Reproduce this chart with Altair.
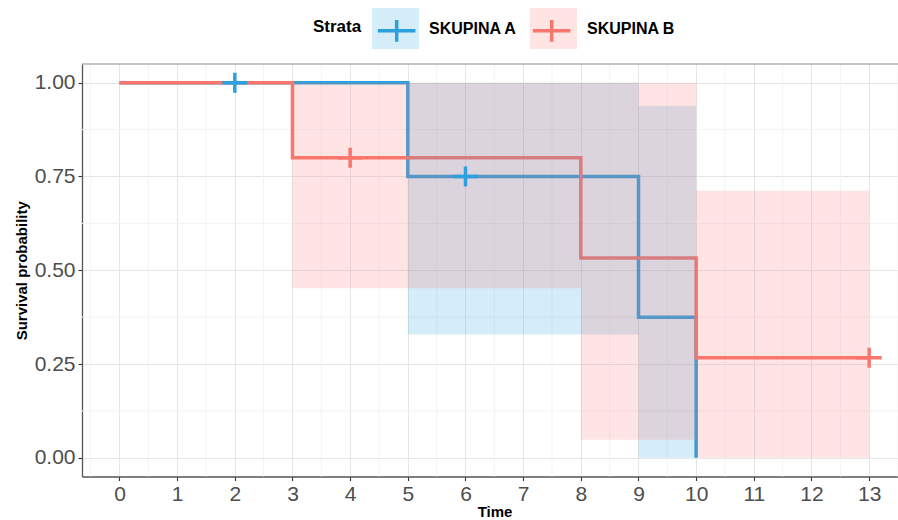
import altair as alt
import pandas as pd

# ---- data ----
groups = ["SKUPINA A", "SKUPINA B"]
colors = ["#2E9FDF", "#F8766D"]

a_time = [0, 5, 9, 10]
a_surv = [1.0, 0.75, 0.375, 0.0]
a_lower = [1.0, 0.329, 0.0, 0.0]
a_upper = [1.0, 1.0, 0.939, 0.939]

b_time = [0, 3, 8, 10, 13]
b_surv = [1.0, 0.8, 0.533, 0.267, 0.267]
b_lower = [1.0, 0.452, 0.048, 0.0, 0.0]
b_upper = [1.0, 1.0, 1.0, 0.712, 0.712]

a_cens_time = [2, 6]
a_cens_surv = [1.0, 0.75]
b_cens_time = [4, 13]
b_cens_surv = [0.8, 0.267]

x_major = list(range(0, 14))
x_minor = [i + 0.5 for i in range(-1, 14)]
y_major = [0.0, 0.25, 0.5, 0.75, 1.0]
y_minor = [0.125, 0.375, 0.625, 0.875]

# ---- tables ----
curve = pd.DataFrame({
    "time": a_time + b_time,
    "surv": a_surv + b_surv,
    "lower": a_lower + b_lower,
    "upper": a_upper + b_upper,
    "strata": [groups[0]] * len(a_time) + [groups[1]] * len(b_time),
})
cens = pd.DataFrame({
    "time": a_cens_time + b_cens_time,
    "surv": a_cens_surv + b_cens_surv,
    "strata": [groups[0]] * len(a_cens_time) + [groups[1]] * len(b_cens_time),
})
xminor_df = pd.DataFrame({"time": x_minor})
yminor_df = pd.DataFrame({"surv": y_minor})

FONT = "Liberation Sans"
W, H = 816, 412.5

rect_path = "M-1,-0.87H1V0.87H-1Z"
cross_legend_path = "M-0.8,0H0.8M0,-0.46V0.46"
cross_path = "M-1,0H1M0,-0.8V0.8"

# legend geometry
LEG_X, LEG_Y = 231, -59
TITLE_FS, LABEL_FS = 17, 16
TITLE_W = 2.834 * TITLE_FS        # width of "Strata" (bold)
LABEL_W = 5.5 * LABEL_FS          # width of "SKUPINA A"/"SKUPINA B" (bold)
SYM = 47
GAP = 10
COLPAD = 12

fill_legend = alt.Legend(
    orient="none", legendX=LEG_X, legendY=LEG_Y, direction="horizontal",
    title="Strata", titleOrient="left", titleAnchor="middle", titleBaseline="middle",
    titleFont=FONT, titleFontSize=TITLE_FS, titleFontWeight="bold", titleColor="black",
    titlePadding=GAP, labelFont=FONT, labelFontSize=LABEL_FS, labelFontWeight="bold",
    labelColor="black", labelOffset=GAP, columnPadding=COLPAD, symbolSize=SYM * SYM,
    symbolType=rect_path, symbolOpacity=0.2, symbolStrokeWidth=0,
)
stroke_legend = alt.Legend(
    orient="none", legendX=LEG_X + TITLE_W + GAP, legendY=LEG_Y, direction="horizontal",
    title=None, labelExpr="''", labelFontSize=LABEL_FS, labelOffset=GAP,
    columnPadding=LABEL_W + COLPAD - 7, symbolSize=SYM * SYM,
    symbolType=cross_legend_path, symbolStrokeWidth=3.5, symbolOpacity=1,
)

x_scale = alt.Scale(domain=[-0.65, 13.5], nice=False, zero=False)
y_scale = alt.Scale(domain=[-0.05, 1.05], nice=False, zero=False)
stroke_scale = alt.Scale(domain=groups, range=colors)

x_axis = alt.Axis(title="Time", values=x_major, format="d", labelOverlap=False,
                  labelFlush=False, titleX=412.5)
y_axis = alt.Axis(title="Survival probability", values=y_major, format=".2f",
                  labelOverlap=False)

GRID_MINOR = "#f3f3f3"

xminor = alt.Chart(xminor_df).mark_rule(color=GRID_MINOR, strokeWidth=1).encode(
    x=alt.X("time:Q", scale=x_scale, axis=x_axis)
)
yminor = alt.Chart(yminor_df).mark_rule(color=GRID_MINOR, strokeWidth=1).encode(
    y=alt.Y("surv:Q", scale=y_scale, axis=y_axis)
)

lines = alt.Chart(curve).mark_line(
    interpolate="step-after", strokeWidth=3.5, strokeCap="butt", strokeJoin="miter"
).encode(
    x=alt.X("time:Q", scale=x_scale, axis=x_axis),
    y=alt.Y("surv:Q", scale=y_scale, axis=y_axis),
    stroke=alt.Stroke("strata:N", scale=stroke_scale, legend=stroke_legend),
    order=alt.Order("time:Q"),
)

bands = alt.Chart(curve).mark_area(
    interpolate="step-after", opacity=0.2
).encode(
    x=alt.X("time:Q", scale=x_scale, axis=x_axis),
    y=alt.Y("lower:Q", scale=y_scale, axis=y_axis),
    y2="upper:Q",
    fill=alt.Fill("strata:N", scale=alt.Scale(range=colors), legend=fill_legend),
)

marks = alt.Chart(cens).mark_point(
    shape=cross_path, size=625, strokeWidth=3.5, filled=False, opacity=1
).encode(
    x=alt.X("time:Q", scale=x_scale, axis=x_axis),
    y=alt.Y("surv:Q", scale=y_scale, axis=y_axis),
    stroke=alt.Stroke("strata:N", scale=stroke_scale, legend=stroke_legend),
)

border = alt.Chart(pd.DataFrame({"k": [0]})).mark_rule(
    color="#8c8c8c", strokeWidth=1.2
).encode(x=alt.value(0), x2=alt.value(W), y=alt.value(0))

chart = alt.layer(xminor, yminor, lines, bands, marks, border).properties(
    width=W, height=H,
    autosize=alt.AutoSizeParams(type="none"),
    padding={"left": 82, "top": 64, "right": 0, "bottom": 43.5},
).configure_view(stroke=None).configure_axis(
    labelFont=FONT, labelFontSize=21, labelColor="#4d4d4d",
    titleFont=FONT, titleFontSize=15, titleFontWeight="bold", titleColor="black",
    domainColor="#555555", domainWidth=1.3,
    tickColor="#333333", tickSize=4, tickWidth=1.1,
    gridColor="#e6e6e6", gridWidth=1, labelPadding=3,
).configure_axisX(titlePadding=0).configure_axisY(titlePadding=5)

chart.save("out.html", embed_options={"renderer": "svg", "actions": False})
